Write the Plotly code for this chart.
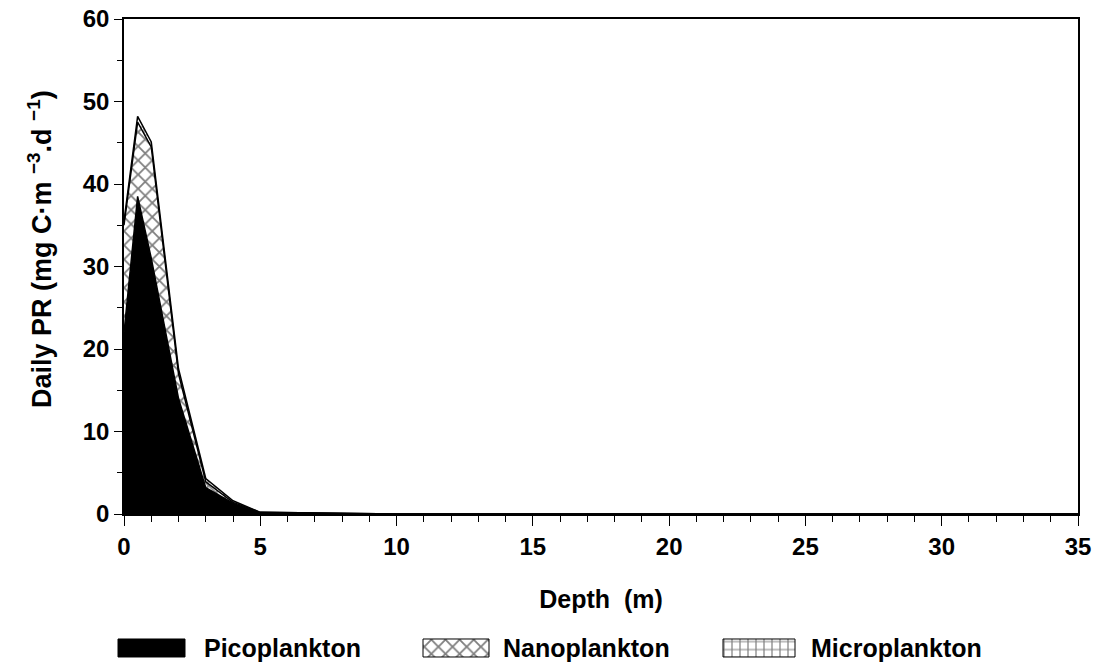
import plotly.graph_objects as go

# ---- data ----
depth = [0, 0.5, 1, 2, 3, 4, 5, 10, 15, 20, 25, 30, 35]
pico = [22, 38.5, 31, 14, 3.2, 1.3, 0.1, 0, 0, 0, 0, 0, 0]
nano = [13, 9, 13.5, 3, 0.7, 0.1, 0.1, 0, 0, 0, 0, 0, 0]
micro = [0.5, 0.7, 0.6, 0.6, 0.4, 0.2, 0.0, 0, 0, 0, 0, 0, 0]
names = ["Picoplankton", "Nanoplankton", "Microplankton"]
xticks = [0, 5, 10, 15, 20, 25, 30, 35]
yticks = [0, 10, 20, 30, 40, 50, 60]

FONT = "Liberation Sans"
W, H = 1104, 667

PAT_NANO = dict(shape="x", fgcolor="black", bgcolor="white", size=10, solidity=0.33)
PAT_MICRO = dict(shape="+", fgcolor="black", bgcolor="white", size=8, solidity=0.28)

fig = go.Figure()
fig.add_trace(go.Scatter(
    x=depth, y=pico, name=names[0], mode="lines", stackgroup="one",
    line=dict(color="black", width=1.5), fillcolor="black", showlegend=False,
))
fig.add_trace(go.Scatter(
    x=depth, y=nano, name=names[1], mode="lines", stackgroup="one",
    line=dict(color="black", width=1.5), fillpattern=PAT_NANO, showlegend=False,
))
fig.add_trace(go.Scatter(
    x=depth, y=micro, name=names[2], mode="lines", stackgroup="one",
    line=dict(color="black", width=1.5), fillpattern=PAT_MICRO, showlegend=False,
))

# ---- custom legend (swatch boxes on a hidden helper axis, pixel units) ----
leg_swatch_x = [(118, 185), (423, 489), (723, 795)]
leg_text_x = [202, 501, 809]
leg_y0, leg_y1, leg_yc = 10, 28, 19  # pixels from bottom of the figure
leg_styles = [dict(fillcolor="black"), dict(fillpattern=PAT_NANO), dict(fillpattern=PAT_MICRO)]
for (x0, x1), st, nm in zip(leg_swatch_x, leg_styles, names):
    fig.add_trace(go.Scatter(
        x=[x0, x1, x1, x0, x0], y=[leg_y0, leg_y0, leg_y1, leg_y1, leg_y0],
        mode="lines", fill="toself", line=dict(color="black", width=1),
        xaxis="x2", yaxis="y2", showlegend=False, hoverinfo="skip", name=nm, **st,
    ))
annotations = []
for tx, nm in zip(leg_text_x, names):
    annotations.append(dict(
        x=tx, y=leg_yc, xref="x2", yref="y2", text=nm, showarrow=False,
        xanchor="left", yanchor="middle",
        font=dict(family=FONT, size=25, color="black", weight="bold"),
    ))

# y-axis title placed as rotated text
annotations.append(dict(
    x=40 / W, y=(H - 249) / H, xref="paper", yref="paper",
    text="Daily PR (mg C\u00b7m <sup>\u22123</sup>.d <sup>\u22121</sup>)",
    textangle=-90, showarrow=False, xanchor="center", yanchor="middle",
    font=dict(family=FONT, size=27, color="black", weight="bold"),
))

px0, px1 = 124, 1078
py_top, py_bot = 19, 514

fig.update_layout(
    width=W, height=H,
    margin=dict(l=0, r=0, t=0, b=0, autoexpand=False),
    paper_bgcolor="white", plot_bgcolor="white",
    font=dict(family=FONT, color="black", size=20),
    showlegend=False,
    annotations=annotations,
    xaxis=dict(
        domain=[px0 / W, px1 / W], anchor="y",
        range=[0, 35], tickmode="array", tickvals=xticks,
        ticks="outside", ticklen=10, tickwidth=1.2, tickcolor="black",
        minor=dict(tickmode="linear", dtick=1, ticks="outside", ticklen=6, tickwidth=1.2, tickcolor="black"),
        showline=True, linecolor="black", linewidth=1.5, mirror=True,
        showgrid=False, zeroline=False,
        tickfont=dict(family=FONT, size=24, color="black", weight="bold"),
        title=dict(text="Depth  (m)", font=dict(family=FONT, size=25, color="black", weight="bold"), standoff=32),
    ),
    yaxis=dict(
        domain=[(H - py_bot) / H, (H - py_top) / H], anchor="x",
        range=[0, 60], tickmode="array", tickvals=yticks,
        ticks="outside", ticklen=8, tickwidth=1.2, tickcolor="black",
        minor=dict(tickmode="linear", dtick=5, ticks="outside", ticklen=5, tickwidth=1.2, tickcolor="black"),
        showline=True, linecolor="black", linewidth=1.5, mirror=True,
        showgrid=False, zeroline=False,
        tickfont=dict(family=FONT, size=24, color="black", weight="bold"),
    ),
    xaxis2=dict(domain=[0, 1], anchor="y2", range=[0, W], visible=False, fixedrange=True),
    yaxis2=dict(domain=[0, 0.2], anchor="x2", range=[0, 0.2 * H], visible=False, fixedrange=True),
)

fig.write_html("out.html")
